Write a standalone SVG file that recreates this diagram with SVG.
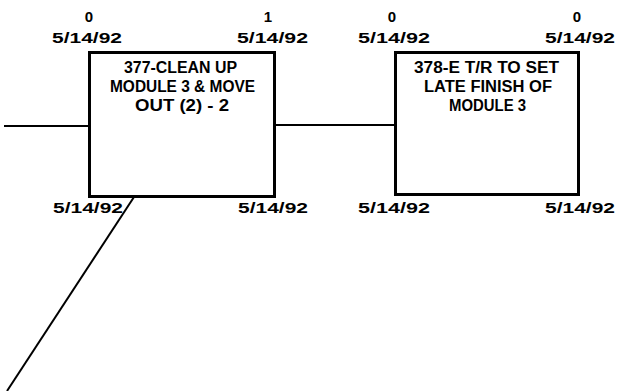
<svg xmlns="http://www.w3.org/2000/svg" width="619" height="391" viewBox="0 0 619 391">
<style>
.box{fill:#fff;stroke:#000;stroke-width:3}
.edge{stroke:#000;stroke-width:2;fill:none}
text{font-family:"Liberation Sans",Arial,sans-serif;font-weight:bold;font-size:15px;fill:#000}
.t{font-size:16px}
.c{text-anchor:middle}
</style>
<rect width="619" height="391" fill="#fff"/>
<g id="connectors">
<line class="edge" x1="4" y1="126" x2="90" y2="126"/>
<line class="edge" x1="275" y1="125" x2="395" y2="125"/>
<line class="edge" x1="134" y1="197" x2="7" y2="391" stroke-width="2.5"/>
</g>
<g id="node377">
<rect class="box" x="89.5" y="52.5" width="185" height="144"/>
<text x="89" y="22" class="c">0</text>
<text x="52" y="43" textLength="70" lengthAdjust="spacingAndGlyphs">5/14/92</text>
<text x="268" y="22" class="c">1</text>
<text x="237" y="43" textLength="71" lengthAdjust="spacingAndGlyphs">5/14/92</text>
<text class="t" x="124" y="73" textLength="113" lengthAdjust="spacingAndGlyphs">377-CLEAN UP</text>
<text class="t" x="110" y="92" textLength="145" lengthAdjust="spacingAndGlyphs">MODULE 3 &amp; MOVE</text>
<text class="t" x="135" y="111" textLength="94" lengthAdjust="spacingAndGlyphs">OUT (2) - 2</text>
<text x="53" y="213" textLength="70" lengthAdjust="spacingAndGlyphs">5/14/92</text>
<text x="238" y="213" textLength="70" lengthAdjust="spacingAndGlyphs">5/14/92</text>
</g>
<g id="node378">
<rect class="box" x="395.5" y="52.5" width="183" height="142"/>
<text x="392" y="22" class="c">0</text>
<text x="358" y="43" textLength="72" lengthAdjust="spacingAndGlyphs">5/14/92</text>
<text x="577" y="22" class="c">0</text>
<text x="545" y="43" textLength="70" lengthAdjust="spacingAndGlyphs">5/14/92</text>
<text class="t" x="414" y="73" textLength="145" lengthAdjust="spacingAndGlyphs">378-E T/R TO SET</text>
<text class="t" x="424" y="92" textLength="128" lengthAdjust="spacingAndGlyphs">LATE FINISH OF</text>
<text class="t" x="449" y="111" textLength="77" lengthAdjust="spacingAndGlyphs">MODULE 3</text>
<text x="358" y="213" textLength="72" lengthAdjust="spacingAndGlyphs">5/14/92</text>
<text x="545" y="213" textLength="70" lengthAdjust="spacingAndGlyphs">5/14/92</text>
</g>
</svg>
